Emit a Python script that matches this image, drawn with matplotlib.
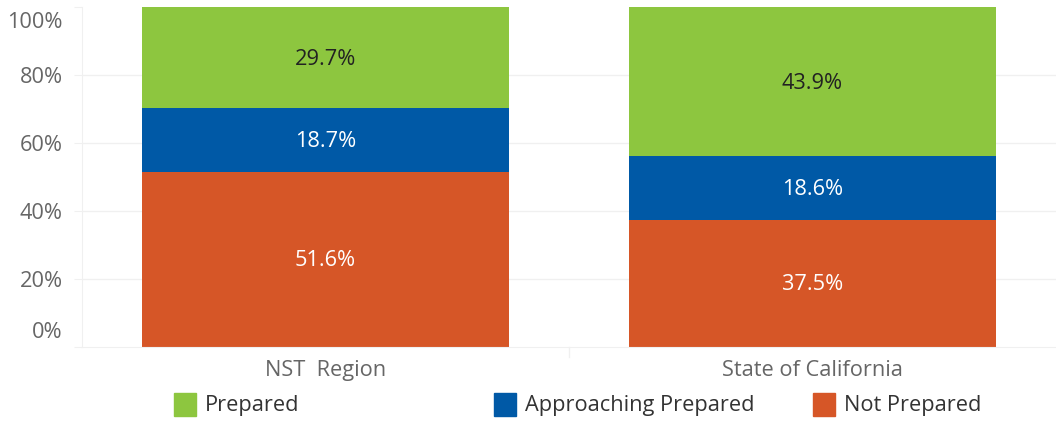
import numpy as np
import matplotlib.pyplot as plt
from matplotlib.patches import Rectangle
import matplotlib.transforms as mtransforms

plt.rcParams['font.family'] = ['Open Sans', 'DejaVu Sans']

regions = ["NST  Region", "State of California"]
series = ["Not Prepared", "Approaching Prepared", "Prepared"]
not_prepared = [51.6, 37.5]
approaching = [18.7, 18.6]
prepared = [29.7, 43.9]
colours = ["#d65627", "#0059a6", "#8dc63f"]
text_colours = ["white", "white", "#222222"]
yticks = [0, 20, 40, 60, 80, 100]
fs = 15.7

fig = plt.figure(figsize=(10.56, 4.21), dpi=100)
ax = fig.add_axes([82/1056, 74/421, 1 - 82/1056, 340/421])

x = np.arange(len(regions))
bottom = np.zeros(len(regions))
for vals, col, tcol in zip([not_prepared, approaching, prepared], colours, text_colours):
	vals = np.array(vals)
	ax.bar(x, vals, bottom=bottom, width=0.752, color=col, zorder=2)
	for xi, b, v in zip(x, bottom, vals):
		ax.text(xi, b + v/2 - 0.5, "%.1f%%" % v, ha='center', va='center',
			color=tcol, fontsize=fs, zorder=3)
	bottom += vals

ax.set_xlim(-0.5, 1.5)
ax.set_ylim(0, 100)
ax.set_yticks(yticks)
ax.set_yticklabels(["%d%%" % t for t in yticks], color='#666666', fontsize=fs)
ax.set_xticks([])
for t in yticks[1:-1]:
	ax.axhline(t, color='#f0f0f0', lw=1, zorder=1)
for s in ['top', 'right']:
	ax.spines[s].set_visible(False)
ax.spines['left'].set_color('#f0f0f0')
ax.spines['bottom'].set_color('#f0f0f0')
ax.tick_params(axis='y', length=6, color='#f0f0f0', pad=8)

# tableau style: end labels pushed inside
labels = ax.get_yticklabels()
labels[0].set_transform(labels[0].get_transform() + mtransforms.ScaledTranslation(0, 17/100, fig.dpi_scale_trans))
labels[-1].set_transform(labels[-1].get_transform() + mtransforms.ScaledTranslation(0, -13/100, fig.dpi_scale_trans))

# column dividers
ax.axvline(0.5, ymin=-0.03, ymax=0, color='#f0f0f0', lw=1, clip_on=False)
for xi, name in zip(x, regions):
	ax.text(xi, -6.8, name, ha='center', va='center', color='#666666', fontsize=fs)

# legend
legend_x = [174, 494, 813]
for lx, name, col in zip(legend_x, ["Prepared", "Approaching Prepared", "Not Prepared"],
		[colours[2], colours[1], colours[0]]):
	fig.patches.append(Rectangle((lx/1056, (421-416)/421), 22/1056, 23/421,
		transform=fig.transFigure, color=col))
	fig.text((lx+31)/1056, (421-406)/421, name, ha='left', va='center',
		color='#333333', fontsize=fs)

fig.savefig("out.png", dpi=100)
